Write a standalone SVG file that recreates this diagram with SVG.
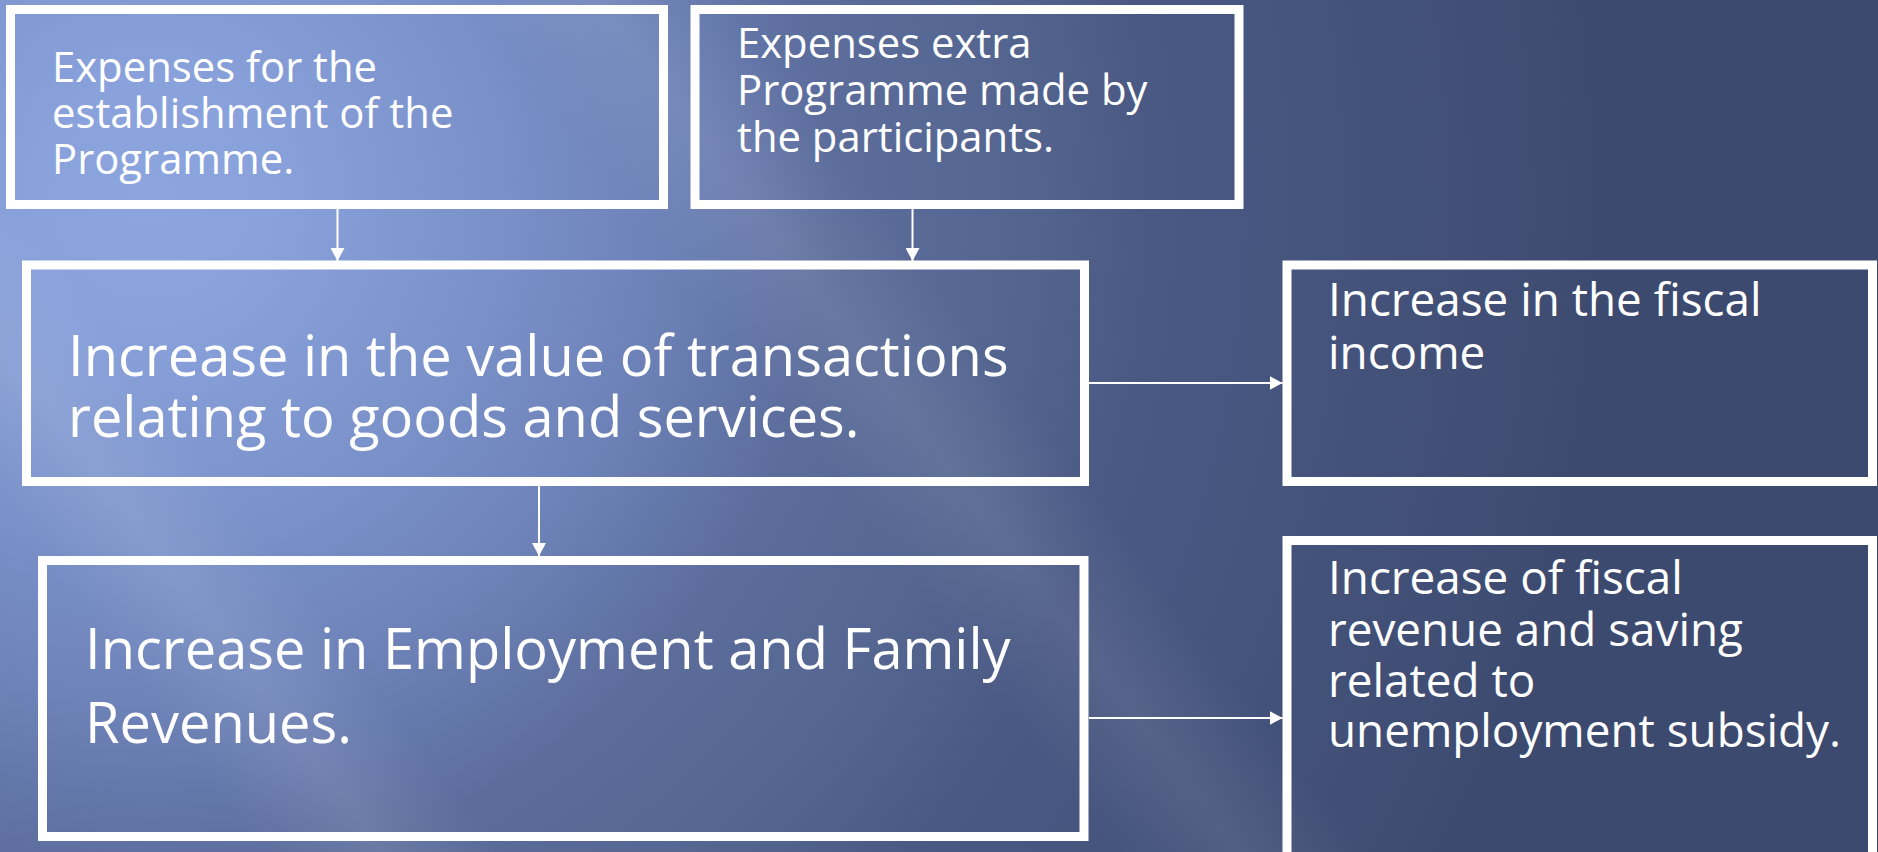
<svg xmlns="http://www.w3.org/2000/svg" width="1878" height="852" viewBox="0 0 1878 852">
  <defs>
    <!-- backdrop: light periwinkle glow at upper left fading to navy -->
    <radialGradient id="bgGlow" gradientUnits="userSpaceOnUse" cx="150" cy="200" r="1450">
      <stop offset="0" stop-color="#8ca5df"/>
      <stop offset="0.08" stop-color="#8aa2dc"/>
      <stop offset="0.25" stop-color="#788fc7"/>
      <stop offset="0.35" stop-color="#6d82b8"/>
      <stop offset="0.47" stop-color="#5c6d9c"/>
      <stop offset="0.6" stop-color="#53658f"/>
      <stop offset="0.69" stop-color="#4a5984"/>
      <stop offset="0.97" stop-color="#3f4d73"/>
      <stop offset="1" stop-color="#3d4a70"/>
    </radialGradient>
    <!-- soft diagonal light streaks -->
    <linearGradient id="streakA" gradientUnits="userSpaceOnUse" x1="-240" y1="180" x2="-88" y2="66">
      <stop offset="0" stop-color="#ffffff" stop-opacity="0"/>
      <stop offset="0.5" stop-color="#ffffff" stop-opacity="0.09"/>
      <stop offset="1" stop-color="#ffffff" stop-opacity="0"/>
    </linearGradient>
    <linearGradient id="streakB" gradientUnits="userSpaceOnUse" x1="304" y1="-228" x2="464" y2="-348">
      <stop offset="0" stop-color="#ffffff" stop-opacity="0"/>
      <stop offset="0.5" stop-color="#ffffff" stop-opacity="0.08"/>
      <stop offset="1" stop-color="#ffffff" stop-opacity="0"/>
    </linearGradient>
    <marker id="arrowHead" markerUnits="userSpaceOnUse" markerWidth="14" markerHeight="14" refX="13" refY="7" orient="auto">
      <path d="M0,0 L13,7 L0,14 Z" fill="#ffffff"/>
    </marker>
    <style>
      .box { fill: none; stroke: #ffffff; stroke-width: 9; }
      .lbl { fill: #ffffff; font-family: "Open Sans", "Noto Sans", "DejaVu Sans", sans-serif; }
      .s42 { font-size: 41.8px; }
      .s46 { font-size: 45.8px; }
      .s56 { font-size: 56px; }
      .conn line { stroke: #ffffff; stroke-width: 2; marker-end: url(#arrowHead); }
    </style>
  </defs>

  <!-- background -->
  <rect x="0" y="0" width="1878" height="852" fill="url(#bgGlow)"/>
  <rect x="0" y="0" width="1878" height="852" fill="url(#streakA)"/>
  <rect x="0" y="0" width="1878" height="852" fill="url(#streakB)"/>

  <!-- connectors -->
  <g id="connectors" class="conn">
    <line x1="337.5" y1="209" x2="337.5" y2="261"/>
    <line x1="912.5" y1="209" x2="912.5" y2="261"/>
    <line x1="539" y1="486" x2="539" y2="556"/>
    <line x1="1089" y1="383" x2="1282.5" y2="383"/>
    <line x1="1089" y1="718" x2="1282.5" y2="718"/>
  </g>

  <g id="node-establishment">
    <rect class="box" x="10.5" y="9.5" width="653" height="195"/>
    <text class="lbl s42">
      <tspan x="52" y="82">Expenses for the</tspan>
      <tspan x="52" y="128">establishment of the</tspan>
      <tspan x="52" y="174">Programme.</tspan>
    </text>
  </g>

  <g id="node-extra">
    <rect class="box" x="695" y="9.5" width="544" height="195"/>
    <text class="lbl s42">
      <tspan x="737" y="58">Expenses extra</tspan>
      <tspan x="737" y="105">Programme made by</tspan>
      <tspan x="737" y="152">the participants.</tspan>
    </text>
  </g>

  <g id="node-transactions">
    <rect class="box" x="26.5" y="265" width="1058" height="216.5"/>
    <text class="lbl s56">
      <tspan x="68" y="376">Increase in the value of transactions</tspan>
      <tspan x="68" y="437">relating to goods and services.</tspan>
    </text>
  </g>

  <g id="node-fiscal-income">
    <rect class="box" x="1287" y="265" width="585.5" height="216.5"/>
    <text class="lbl s46">
      <tspan x="1328" y="316">Increase in the fiscal</tspan>
      <tspan x="1328" y="369">income</tspan>
    </text>
  </g>

  <g id="node-employment">
    <rect class="box" x="42.5" y="560.5" width="1041.5" height="276"/>
    <text class="lbl s56">
      <tspan x="85" y="669">Increase in Employment and Family</tspan>
      <tspan x="85" y="743">Revenues.</tspan>
    </text>
  </g>

  <g id="node-fiscal-revenue">
    <rect class="box" x="1287" y="540.5" width="585.5" height="330"/>
    <text class="lbl s46">
      <tspan x="1328" y="594">Increase of fiscal</tspan>
      <tspan x="1328" y="646">revenue and saving</tspan>
      <tspan x="1328" y="697">related to</tspan>
      <tspan x="1328" y="747">unemployment subsidy.</tspan>
    </text>
  </g>
</svg>
